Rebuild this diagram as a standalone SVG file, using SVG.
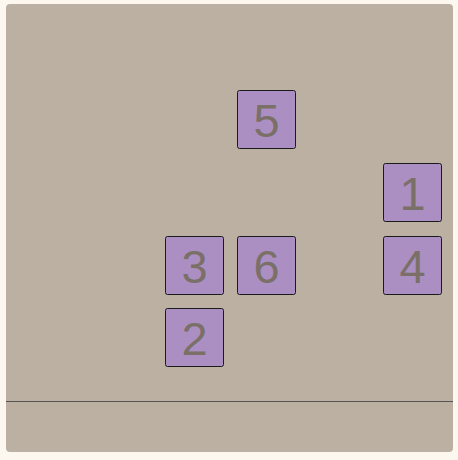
<svg xmlns="http://www.w3.org/2000/svg" width="458" height="460" viewBox="0 0 458 460">
<style>
.tile{fill:#ab8fc2;stroke:#1a1a1a;stroke-width:1}
.lbl{font-family:"Liberation Sans",Arial,sans-serif;font-size:47px;fill:#7a7068;text-anchor:middle}
</style>
<rect x="0" y="0" width="458" height="460" fill="#fcf8ef"/>
<rect x="6" y="4" width="447" height="448" rx="4" fill="#bcb0a3"/>
<line x1="6" y1="401.5" x2="453" y2="401.5" stroke="#555" stroke-width="1"/>
<g id="connectors"/>
<g id="n5"><rect class="tile" x="237.5" y="90.5" width="58" height="58" rx="2"/><text class="lbl" x="266.5" y="136.5">5</text></g>
<g id="n1"><rect class="tile" x="383.5" y="163.5" width="58" height="58" rx="2"/><text class="lbl" x="412.5" y="209.5">1</text></g>
<g id="n3"><rect class="tile" x="165.5" y="236.5" width="58" height="58" rx="2"/><text class="lbl" x="194.5" y="282.5">3</text></g>
<g id="n6"><rect class="tile" x="237.5" y="236.5" width="58" height="58" rx="2"/><text class="lbl" x="266.5" y="282.5">6</text></g>
<g id="n4"><rect class="tile" x="383.5" y="236.5" width="58" height="58" rx="2"/><text class="lbl" x="412.5" y="282.5">4</text></g>
<g id="n2"><rect class="tile" x="165.5" y="308.5" width="58" height="58" rx="2"/><text class="lbl" x="194.5" y="354.5">2</text></g>
</svg>
